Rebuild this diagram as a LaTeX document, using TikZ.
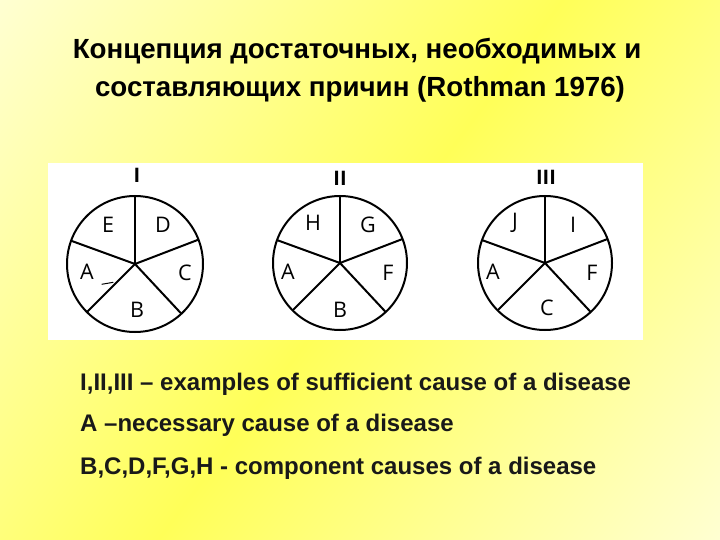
\documentclass[tikz,border=0pt]{standalone}
\usepackage{fontspec}
\setmainfont{Liberation Sans}
\newfontfamily\piefont{Open Sans}
\definecolor{palebg}{RGB}{255,255,210}
\definecolor{satbg}{RGB}{255,255,88}
\definecolor{txtdark}{RGB}{25,25,25}
\begin{document}
\begin{tikzpicture}[x=1pt,y=-1pt,
  pieline/.style={line width=2pt,black},
  seglabel/.style={font=\piefont\fontsize{21.5}{21.5}\selectfont,inner sep=0pt},
  numlabel/.style={font=\piefont\bfseries\fontsize{20}{20}\selectfont,inner sep=0pt},
  titletext/.style={font=\bfseries\fontsize{27.7}{27.7}\selectfont,anchor=base,inner sep=0pt},
  bodytext/.style={font=\bfseries\fontsize{24}{24}\selectfont,anchor=base west,inner sep=0pt,text=txtdark}]
\useasboundingbox (0,0) rectangle (720,540);
% background gradient
\begin{scope}
\clip (0,0) rectangle (720,540);
\begin{scope}[transform canvas={shift={(360,270)},rotate=-36.87}]
\shade[left color=palebg,right color=palebg,middle color=satbg] (-450,-450) rectangle (450,450);
\end{scope}
\end{scope}
% title
\node[titletext] (t1) at (357,59) {Концепция достаточных, необходимых и};
\node[titletext] (t2) at (360,97) {составляющих причин (Rothman 1976)};
% white panel
\fill[white] (48,163) rectangle (643,340);
% pies
\foreach \cx/\cy/\r/\n in {135/264/68/1, 340/263/67/2, 545/263/67/3}{
  \coordinate (c\n) at (\cx,\cy);
  \draw[pieline] (c\n) circle (\r);
  \foreach \a in {90,160,225,313,21}{
    \draw[pieline] (c\n) -- ++(-\a:\r);
  }
}
\draw[line width=1pt] (101.7,284.3) -- (113.3,282.3);
% pie I labels
\node[numlabel] (n1) at (137,175) {I};
\node[seglabel] (e1) at (108,225) {E};
\node[seglabel] (d1) at (163,225) {D};
\node[seglabel] (a1) at (87,272) {A};
\node[seglabel] (cc1) at (185,273) {C};
\node[seglabel] (b1) at (137,310) {B};
% pie II labels
\node[numlabel] (n2) at (340,178) {II};
\node[seglabel] (h2) at (313,223) {H};
\node[seglabel] (g2) at (368,225) {G};
\node[seglabel] (a2) at (288,272) {A};
\node[seglabel] (f2) at (388,273) {F};
\node[seglabel] (b2) at (340,310) {B};
% pie III labels
\node[numlabel] (n3) at (546,177) {III};
\node[seglabel] (j3) at (515,223) {J};
\node[seglabel] (i3) at (573,225) {I};
\node[seglabel] (a3) at (493,272) {A};
\node[seglabel] (f3) at (592,273) {F};
\node[seglabel] (cc3) at (547,308) {C};
% body text
\node[bodytext] (l1) at (80,390) {I,II,III – examples of sufficient cause of a disease};
\node[bodytext] (l2) at (80,431) {A –necessary cause of a disease};
\node[bodytext] (l3) at (80,474) {B,C,D,F,G,H - component causes of a disease};
\end{tikzpicture}
\end{document}
